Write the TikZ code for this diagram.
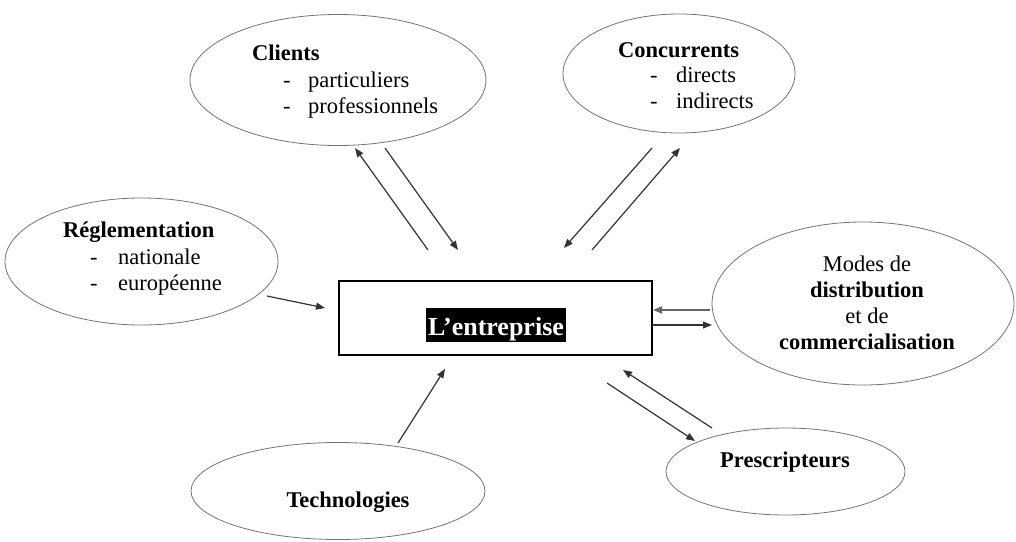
\documentclass[tikz,border=0pt]{standalone}
\usepackage{fontspec}
\setmainfont{Liberation Serif}
\usetikzlibrary{arrows.meta,shapes.geometric}
\begin{document}
\begin{tikzpicture}[x=1pt,y=-1pt,
  oval/.style={draw=black!55, line width=0.8pt, ellipse, inner sep=0pt},
  lbl/.style={font=\fontsize{22.5}{26}\selectfont, inner sep=0pt, anchor=base west},
  blbl/.style={lbl, font=\fontsize{22.5}{26}\selectfont\bfseries},
  clbl/.style={font=\fontsize{22.5}{26}\selectfont, inner sep=0pt, anchor=base},
  bclbl/.style={clbl, font=\fontsize{22.5}{26}\selectfont\bfseries},
  link/.style={draw=black!80, line width=1.2pt, -{Triangle[length=9pt,width=7pt]}},
]
\useasboundingbox (0,0) rectangle (1016,541);

% ellipses
\node[oval, minimum width=296pt, minimum height=131pt] (clients) at (338,80) {};
\node[oval, minimum width=232pt, minimum height=119pt] (concur) at (679,73.5) {};
\node[oval, minimum width=273pt, minimum height=127pt] (regl) at (141.5,261.5) {};
\node[oval, minimum width=302pt, minimum height=163pt] (modes) at (863,303.5) {};
\node[oval, minimum width=294pt, minimum height=97pt] (techno) at (338,491) {};
\node[oval, minimum width=239pt, minimum height=87pt] (prescr) at (785.5,471.5) {};

% central box
\node[draw=black, line width=1.8pt, minimum width=313pt, minimum height=74pt, inner sep=0pt] (box) at (495.5,318) {};
\node[fill=black, text=white, font=\fontsize{26}{30}\selectfont\bfseries, anchor=base,
      inner xsep=2pt, inner ysep=0pt, text height=27pt, text depth=7pt] (entr) at (496,335) {L’entreprise};

% Clients text
\node[blbl] (clT) at (252,60) {Clients};
\node[lbl] (clD1) at (283,87) {-};
\node[lbl] (clW1) at (308,87) {particuliers};
\node[lbl] (clD2) at (283,113) {-};
\node[lbl] (clW2) at (308,113) {professionnels};

% Concurrents text
\node[blbl] (coT) at (618,57) {Concurrents};
\node[lbl] (coD1) at (650,82.5) {-};
\node[lbl] (coW1) at (676,82.5) {directs};
\node[lbl] (coD2) at (650,108) {-};
\node[lbl] (coW2) at (676,108) {indirects};

% Reglementation text
\node[blbl] (reT) at (63,237) {Réglementation};
\node[lbl] (reD1) at (90,264) {-};
\node[lbl] (reW1) at (118,264) {nationale};
\node[lbl] (reD2) at (90,290) {-};
\node[lbl] (reW2) at (118,290) {européenne};

% Modes text
\node[clbl] (moL1) at (867,271) {Modes de};
\node[bclbl] (moL2) at (867,297.5) {distribution};
\node[clbl] (moL3) at (867,323) {et de};
\node[bclbl] (moL4) at (867,349) {commercialisation};

% Technologies, Prescripteurs
\node[bclbl] (teT) at (348,507) {Technologies};
\node[bclbl] (prT) at (785,467) {Prescripteurs};

% arrow end points
\coordinate (a1s) at (428,250); \coordinate (a1e) at (355,148);
\coordinate (a2s) at (385,148); \coordinate (a2e) at (458,250);
\coordinate (a3s) at (652,148); \coordinate (a3e) at (564,248);
\coordinate (a4s) at (592,250); \coordinate (a4e) at (680,148);
\coordinate (a5s) at (267,296); \coordinate (a5e) at (325,308);
\coordinate (a6s) at (710,310); \coordinate (a6e) at (653,310);
\coordinate (a7s) at (652,325); \coordinate (a7e) at (712,325);
\coordinate (a8s) at (712,428); \coordinate (a8e) at (623,370);
\coordinate (a9s) at (607,383); \coordinate (a9e) at (695,441);
\coordinate (a10s) at (398,443); \coordinate (a10e) at (445,369);

\draw[link] (a1s) -- (a1e);
\draw[link] (a2s) -- (a2e);
\draw[link] (a3s) -- (a3e);
\draw[link] (a4s) -- (a4e);
\draw[link] (a5s) -- (a5e);
\draw[link, draw=black!60, line width=1.8pt] (a6s) -- (a6e);
\draw[link] (a7s) -- (a7e);
\draw[link] (a8s) -- (a8e);
\draw[link] (a9s) -- (a9e);
\draw[link] (a10s) -- (a10e);
\end{tikzpicture}
\end{document}
